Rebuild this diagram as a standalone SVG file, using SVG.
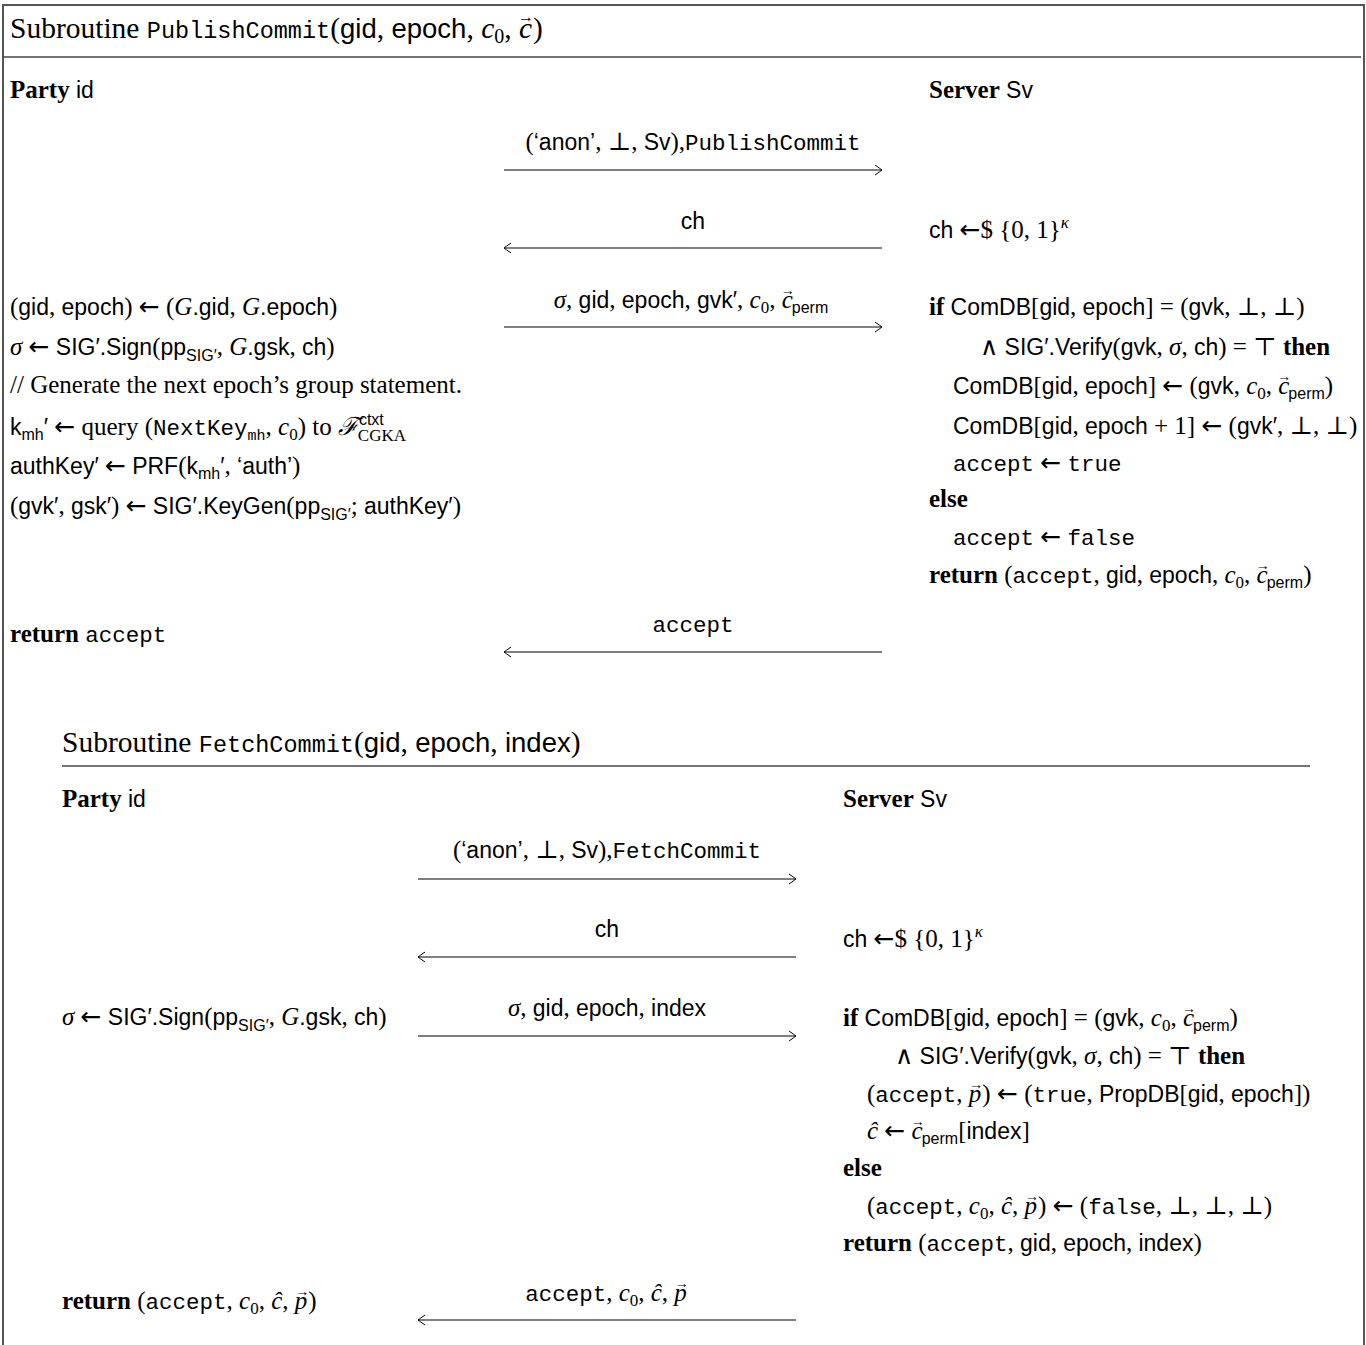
<svg xmlns="http://www.w3.org/2000/svg" width="1366" height="1345" viewBox="0 0 1366 1345">
  <style>
    text { font-family: "Liberation Serif", "DejaVu Serif", serif; font-size: 25px; fill: #000; }
    .r { font-family: "Liberation Serif", "DejaVu Serif", serif; }
    .i { font-family: "Liberation Serif", "DejaVu Serif", serif; font-style: italic; }
    .b { font-family: "Liberation Serif", "DejaVu Serif", serif; font-weight: bold; }
    .s { font-family: "Liberation Sans", "DejaVu Sans", sans-serif; font-size: 23px; }
    .t { font-family: "Liberation Mono", "DejaVu Sans Mono", monospace; font-size: 22.5px; }
    .ar { font-family: "DejaVu Sans", sans-serif; font-size: 25px; }
    .sb { font-size: 17px; }
    .ss { font-size: 16px; }
    .ts { font-size: 15px; }
    .va { font-family: "Liberation Serif", "DejaVu Serif", serif; font-size: 14px; font-style: normal; }
    .cmt { font-size: 25px; }
    .hd { font-size: 29.5px; }
    .hd .s { font-size: 27.5px; }
    .hd .t { font-size: 23.5px; }
    .hd .i { font-size: 29.5px; }
    .hd .sb { font-size: 20px; }
    .hd .va { font-size: 16px; }
    .mid { text-anchor: middle; }
    .frame { fill: none; stroke: #555; stroke-width: 2; }
    .rule { stroke: #444; stroke-width: 1.6; }
    .msg { stroke: #000; stroke-width: 1.2; fill: none; marker-end: url(#tip); }
  </style>
  <defs>
    <marker id="tip" viewBox="-9 -6 10 12" refX="0" refY="0" markerWidth="10" markerHeight="12" markerUnits="userSpaceOnUse" orient="auto">
      <path d="M-7,-5 Q-2,-1.5 0,0 Q-2,1.5 -7,5" fill="none" stroke="#000" stroke-width="1"/>
    </marker>
  </defs>

  <!-- outer frame and rules -->
  <g id="frame">
    <path class="frame" d="M3,1345 V5 H1364 V1345"/>
    <line class="rule" x1="3" y1="57" x2="1361" y2="57"/>
    <line class="rule" x1="62" y1="766" x2="1310" y2="766"/>
  </g>

  <!-- ===== PublishCommit ===== -->
  <g id="publish-header">
    <text class="hd" x="10" y="38">Subroutine <tspan class="t">PublishCommit</tspan>(<tspan class="s">gid</tspan>, <tspan class="s">epoch</tspan>, <tspan class="i">c</tspan><tspan class="sb" dy="5">0</tspan><tspan dy="-5">, </tspan><tspan class="i">c</tspan><tspan class="va" dx="-14" dy="-16">→</tspan><tspan dx="-1" dy="16">)</tspan></text>
  </g>

  <g id="publish-party">
    <text x="10" y="98"><tspan class="b">Party</tspan> <tspan class="s">id</tspan></text>
    <text x="10" y="315">(<tspan class="s">gid</tspan>, <tspan class="s">epoch</tspan>) <tspan class="ar">←</tspan> (<tspan class="i">G</tspan><tspan class="s">.gid</tspan>, <tspan class="i">G</tspan><tspan class="s">.epoch</tspan>)</text>
    <text x="10" y="355"><tspan class="i">σ</tspan> <tspan class="ar">←</tspan> <tspan class="s">SIG′.Sign</tspan>(<tspan class="s">pp</tspan><tspan class="s ss" dy="6">SIG′</tspan><tspan dy="-6">, </tspan><tspan class="i">G</tspan><tspan class="s">.gsk</tspan>, <tspan class="s">ch</tspan>)</text>
    <text x="10" y="393" class="cmt">// Generate the next epoch’s group statement.</text>
    <text x="10" y="435"><tspan class="s">k</tspan><tspan class="s ss" dy="5">mh</tspan><tspan class="s" dy="-5">′</tspan> <tspan class="ar">←</tspan> query (<tspan class="t">NextKey</tspan><tspan class="t ts" dy="5">mh</tspan><tspan dy="-5">, </tspan><tspan class="i">c</tspan><tspan class="sb" dy="5">0</tspan><tspan dy="-5">) to </tspan><tspan class="i">ℱ</tspan><tspan class="s ss" dy="-10">ctxt</tspan><tspan class="sb" dx="-26" dy="16">CGKA</tspan></text>
    <text x="10" y="474"><tspan class="s">authKey′</tspan> <tspan class="ar">←</tspan> <tspan class="s">PRF</tspan>(<tspan class="s">k</tspan><tspan class="s ss" dy="5">mh</tspan><tspan class="s" dy="-5">′</tspan>, <tspan class="s">‘auth’</tspan>)</text>
    <text x="10" y="514">(<tspan class="s">gvk′</tspan>, <tspan class="s">gsk′</tspan>) <tspan class="ar">←</tspan> <tspan class="s">SIG′.KeyGen</tspan>(<tspan class="s">pp</tspan><tspan class="s ss" dy="6">SIG′</tspan><tspan dy="-6">; </tspan><tspan class="s">authKey′</tspan>)</text>
    <text x="10" y="642"><tspan class="b">return</tspan> <tspan class="t">accept</tspan></text>
  </g>

  <g id="publish-server">
    <text x="929" y="98"><tspan class="b">Server</tspan> <tspan class="s">Sv</tspan></text>
    <text x="929" y="238"><tspan class="s">ch</tspan> <tspan class="ar">←</tspan>$ {0, 1}<tspan class="i sb" dy="-10">κ</tspan></text>
    <text x="929" y="315"><tspan class="b">if</tspan> <tspan class="s">ComDB</tspan>[<tspan class="s">gid</tspan>, <tspan class="s">epoch</tspan>] = (<tspan class="s">gvk</tspan>, ⊥, ⊥)</text>
    <text x="980" y="355">∧ <tspan class="s">SIG′.Verify</tspan>(<tspan class="s">gvk</tspan>, <tspan class="i">σ</tspan>, <tspan class="s">ch</tspan>) = ⊤ <tspan class="b">then</tspan></text>
    <text x="953" y="394"><tspan class="s">ComDB</tspan>[<tspan class="s">gid</tspan>, <tspan class="s">epoch</tspan>] <tspan class="ar">←</tspan> (<tspan class="s">gvk</tspan>, <tspan class="i">c</tspan><tspan class="sb" dy="5">0</tspan><tspan dy="-5">, </tspan><tspan class="i">c</tspan><tspan class="va" dx="-12" dy="-13">→</tspan><tspan class="s ss" dx="-3" dy="18">perm</tspan><tspan dy="-5">)</tspan></text>
    <text x="953" y="434"><tspan class="s">ComDB</tspan>[<tspan class="s">gid</tspan>, <tspan class="s">epoch</tspan> + 1] <tspan class="ar">←</tspan> (<tspan class="s">gvk′</tspan>, ⊥, ⊥)</text>
    <text x="953" y="471"><tspan class="t">accept</tspan> <tspan class="ar">←</tspan> <tspan class="t">true</tspan></text>
    <text x="929" y="507" class="b">else</text>
    <text x="953" y="545"><tspan class="t">accept</tspan> <tspan class="ar">←</tspan> <tspan class="t">false</tspan></text>
    <text x="929" y="583"><tspan class="b">return</tspan> (<tspan class="t">accept</tspan>, <tspan class="s">gid</tspan>, <tspan class="s">epoch</tspan>, <tspan class="i">c</tspan><tspan class="sb" dy="5">0</tspan><tspan dy="-5">, </tspan><tspan class="i">c</tspan><tspan class="va" dx="-12" dy="-13">→</tspan><tspan class="s ss" dx="-3" dy="18">perm</tspan><tspan dy="-5">)</tspan></text>
  </g>

  <g id="publish-messages">
    <text class="mid" x="693" y="150">(<tspan class="s">‘anon’</tspan>, ⊥, <tspan class="s">Sv</tspan>),<tspan class="t">PublishCommit</tspan></text>
    <text class="mid" x="693" y="229"><tspan class="s">ch</tspan></text>
    <text class="mid" x="691" y="308"><tspan class="i">σ</tspan>, <tspan class="s">gid</tspan>, <tspan class="s">epoch</tspan>, <tspan class="s">gvk′</tspan>, <tspan class="i">c</tspan><tspan class="sb" dy="5">0</tspan><tspan dy="-5">, </tspan><tspan class="i">c</tspan><tspan class="va" dx="-12" dy="-13">→</tspan><tspan class="s ss" dx="-3" dy="18">perm</tspan></text>
    <text class="mid" x="693" y="632"><tspan class="t">accept</tspan></text>
  </g>

  <!-- ===== FetchCommit ===== -->
  <g id="fetch-header">
    <text class="hd" x="62" y="752">Subroutine <tspan class="t">FetchCommit</tspan>(<tspan class="s">gid</tspan>, <tspan class="s">epoch</tspan>, <tspan class="s">index</tspan>)</text>
  </g>

  <g id="fetch-party">
    <text x="62" y="807"><tspan class="b">Party</tspan> <tspan class="s">id</tspan></text>
    <text x="62" y="1025"><tspan class="i">σ</tspan> <tspan class="ar">←</tspan> <tspan class="s">SIG′.Sign</tspan>(<tspan class="s">pp</tspan><tspan class="s ss" dy="6">SIG′</tspan><tspan dy="-6">, </tspan><tspan class="i">G</tspan><tspan class="s">.gsk</tspan>, <tspan class="s">ch</tspan>)</text>
    <text x="62" y="1309"><tspan class="b">return</tspan> (<tspan class="t">accept</tspan>, <tspan class="i">c</tspan><tspan class="sb" dy="5">0</tspan><tspan dy="-5">, </tspan><tspan class="i">ĉ</tspan>, <tspan class="i">p</tspan><tspan class="va" dx="-12" dy="-13">→</tspan><tspan dx="-1" dy="13">)</tspan></text>
  </g>

  <g id="fetch-server">
    <text x="843" y="807"><tspan class="b">Server</tspan> <tspan class="s">Sv</tspan></text>
    <text x="843" y="947"><tspan class="s">ch</tspan> <tspan class="ar">←</tspan>$ {0, 1}<tspan class="i sb" dy="-10">κ</tspan></text>
    <text x="843" y="1026"><tspan class="b">if</tspan> <tspan class="s">ComDB</tspan>[<tspan class="s">gid</tspan>, <tspan class="s">epoch</tspan>] = (<tspan class="s">gvk</tspan>, <tspan class="i">c</tspan><tspan class="sb" dy="5">0</tspan><tspan dy="-5">, </tspan><tspan class="i">c</tspan><tspan class="va" dx="-12" dy="-13">→</tspan><tspan class="s ss" dx="-3" dy="18">perm</tspan><tspan dy="-5">)</tspan></text>
    <text x="895" y="1064">∧ <tspan class="s">SIG′.Verify</tspan>(<tspan class="s">gvk</tspan>, <tspan class="i">σ</tspan>, <tspan class="s">ch</tspan>) = ⊤ <tspan class="b">then</tspan></text>
    <text x="867" y="1102">(<tspan class="t">accept</tspan>, <tspan class="i">p</tspan><tspan class="va" dx="-12" dy="-13">→</tspan><tspan dx="-1" dy="13">) </tspan><tspan class="ar">←</tspan> (<tspan class="t">true</tspan>, <tspan class="s">PropDB</tspan>[<tspan class="s">gid</tspan>, <tspan class="s">epoch</tspan>])</text>
    <text x="867" y="1139"><tspan class="i">ĉ</tspan> <tspan class="ar">←</tspan> <tspan class="i">c</tspan><tspan class="va" dx="-12" dy="-13">→</tspan><tspan class="s ss" dx="-3" dy="18">perm</tspan><tspan dy="-5">[</tspan><tspan class="s">index</tspan>]</text>
    <text x="843" y="1176" class="b">else</text>
    <text x="867" y="1214">(<tspan class="t">accept</tspan>, <tspan class="i">c</tspan><tspan class="sb" dy="5">0</tspan><tspan dy="-5">, </tspan><tspan class="i">ĉ</tspan>, <tspan class="i">p</tspan><tspan class="va" dx="-12" dy="-13">→</tspan><tspan dx="-1" dy="13">) </tspan><tspan class="ar">←</tspan> (<tspan class="t">false</tspan>, ⊥, ⊥, ⊥)</text>
    <text x="843" y="1251"><tspan class="b">return</tspan> (<tspan class="t">accept</tspan>, <tspan class="s">gid</tspan>, <tspan class="s">epoch</tspan>, <tspan class="s">index</tspan>)</text>
  </g>

  <g id="fetch-messages">
    <text class="mid" x="607" y="858">(<tspan class="s">‘anon’</tspan>, ⊥, <tspan class="s">Sv</tspan>),<tspan class="t">FetchCommit</tspan></text>
    <text class="mid" x="607" y="937"><tspan class="s">ch</tspan></text>
    <text class="mid" x="607" y="1016"><tspan class="i">σ</tspan>, <tspan class="s">gid</tspan>, <tspan class="s">epoch</tspan>, <tspan class="s">index</tspan></text>
    <text class="mid" x="607" y="1301"><tspan class="t">accept</tspan>, <tspan class="i">c</tspan><tspan class="sb" dy="5">0</tspan><tspan dy="-5">, </tspan><tspan class="i">ĉ</tspan>, <tspan class="i">p</tspan><tspan class="va" dx="-12" dy="-13">→</tspan></text>
  </g>

  <!-- message arrows -->
  <g id="connectors">
    <line class="msg" x1="504" y1="170" x2="882" y2="170"/>
    <line class="msg" x1="882" y1="248" x2="504" y2="248"/>
    <line class="msg" x1="504" y1="327" x2="882" y2="327"/>
    <line class="msg" x1="882" y1="652" x2="504" y2="652"/>
    <line class="msg" x1="418" y1="879" x2="796" y2="879"/>
    <line class="msg" x1="796" y1="957" x2="418" y2="957"/>
    <line class="msg" x1="418" y1="1036" x2="796" y2="1036"/>
    <line class="msg" x1="796" y1="1320" x2="418" y2="1320"/>
  </g>
</svg>
